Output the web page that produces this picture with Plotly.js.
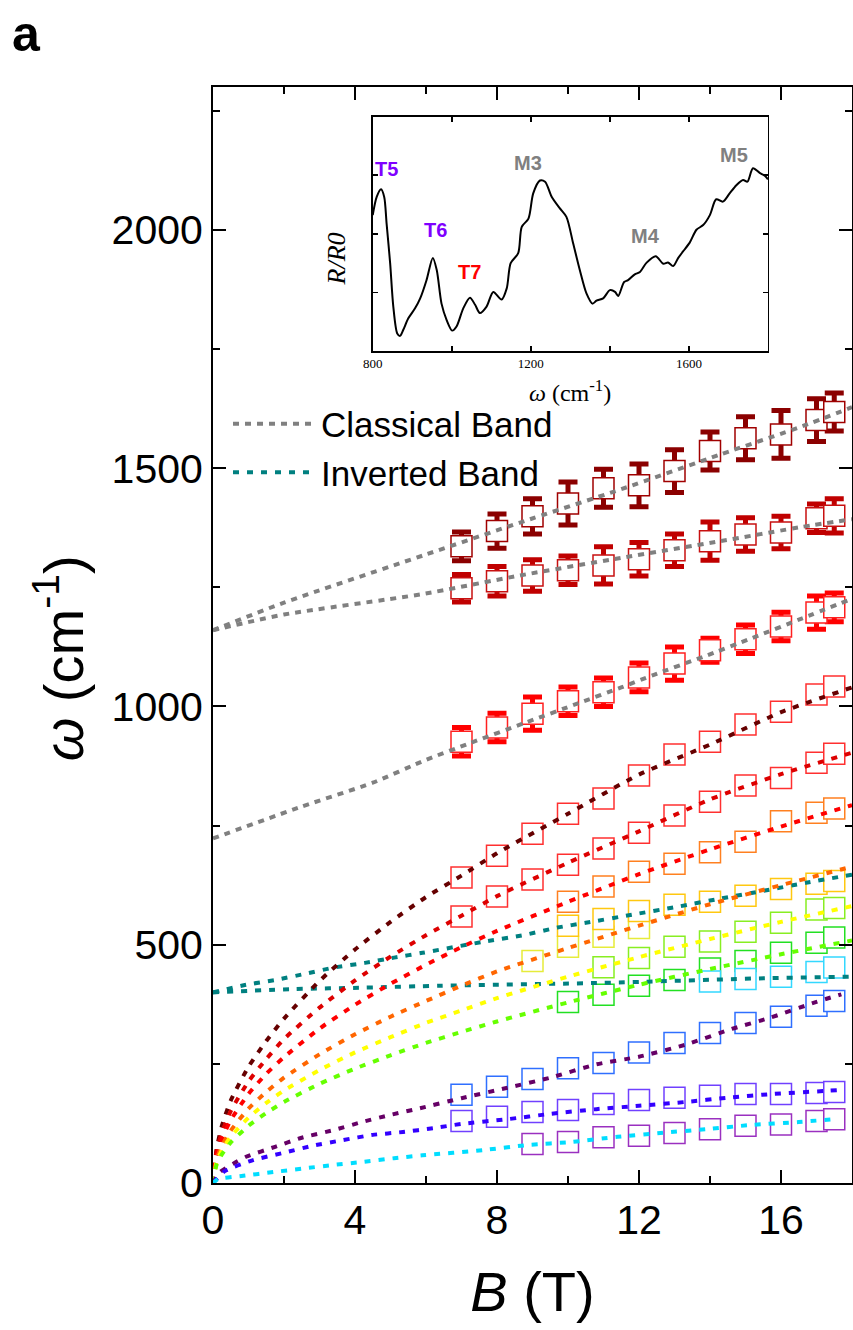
<!DOCTYPE html>
<html><head><meta charset="utf-8">
<script src="https://cdn.plot.ly/plotly-3.0.1.min.js"></script>
<style>html,body{margin:0;padding:0;background:#fff;} #chart{width:853px;height:1330px;}</style>
</head><body><div id="chart"></div>
<script>
// ---------- Classical band data (with error bars) ----------
const clsB = [7, 8, 9, 10, 11, 12, 13, 14, 15, 16, 17, 17.5];
const cls1W = [1336, 1368, 1399, 1426, 1458, 1464, 1494, 1536, 1563, 1571, 1601, 1618];
const cls1Err = [30, 36, 37, 45, 40, 45, 45, 40, 45, 50, 45, 40];
const cls2W = [1248, 1263, 1275, 1286, 1296, 1309, 1328, 1347, 1361, 1365, 1395, 1400];
const cls2Err = [29, 31, 33, 30, 39, 35, 34, 40, 35, 34, 30, 36];
const cls3W = [926, 956, 985, 1011, 1030, 1061, 1090, 1118, 1141, 1168, 1197, 1208];
const cls3Err = [30, 30, 35, 30, 30, 30, 35, 25, 30, 30, 35, 30];

// ---------- Other measured transitions ----------
const fullB = [7, 8, 9, 10, 11, 12, 13, 14, 15, 16, 17, 17.5];
const maroonBoxW = [641, 687, 733, 775, 807, 855, 899, 926, 962, 989, 1025, 1042];
const red2BoxW = [559, 601, 637, 668, 702, 735, 771, 800, 834, 850, 882, 901];
const orangeBoxB = [10, 11, 12, 13, 14, 15, 16, 17, 17.5];
const orangeBoxW = [590, 622, 653, 670, 694, 716, 759, 777, 786];
const paleBoxB = [9, 10, 11, 12];
const paleBoxW = [466, 496, 517, 535];
const goldBoxB = [10, 11, 12, 13, 14, 15, 16, 17, 17.5];
const goldBoxW = [540, 554, 571, 584, 590, 603, 617, 628, 634];
const limeBoxB = [11, 12, 13, 14, 15, 16, 17, 17.5];
const limeBoxW = [453, 472, 496, 507, 527, 546, 574, 577];
const greenBoxB = [10, 11, 12, 13, 14, 15, 16, 17, 17.5];
const greenBoxW = [380, 395, 414, 426, 450, 466, 483, 504, 515];
const cyanBoxB = [14, 15, 16, 17, 17.5];
const cyanBoxW = [423, 428, 433, 443, 452];
const blueBoxW = [185, 202, 218, 241, 252, 274, 294, 315, 336, 349, 372, 382];
const violetBoxW = [130, 139, 149, 153, 166, 174, 179, 183, 187, 187, 189, 191];
const magentaBoxB = [9, 10, 11, 12, 13, 14, 15, 16, 17, 17.5];
const magentaBoxW = [82, 86, 96, 99, 105, 113, 120, 123, 130, 134];

// ---------- Fit curves ----------
const gray1B = [0, 2, 6, 8.65, 11.5, 14.3, 16.6, 18];
const gray1W = [1160, 1218, 1319, 1386, 1456, 1529, 1588, 1628];
const gray2B = [0, 2, 5.83, 8.65, 11.5, 14.3, 16.6, 18];
const gray2W = [1160, 1193, 1235, 1275, 1312, 1347, 1377, 1393];
const gray3B = [0, 2.5, 4.5, 6, 7.2, 8.8, 10.3, 11.5, 12.4, 13.8, 15.2, 16.6, 18];
const gray3W = [723, 790, 840, 888, 922, 966, 1007, 1040, 1066, 1104, 1144, 1185, 1226];

const fitB = [0, 0.1, 0.25, 0.5, 1, 1.5, 2, 3, 4, 5, 6, 7, 8, 10, 12, 14, 16, 18];
const maroonFitW = [0, 70, 120, 173, 244, 298, 345, 424, 490, 548, 600, 645, 692, 775, 857, 920, 988, 1040];
const red2FitW = [0, 67, 106, 151, 213, 260, 302, 368, 425, 475, 520, 561, 602, 672, 738, 805, 858, 903];
const redFitW = [0, 59, 93, 132, 187, 229, 264, 324, 374, 418, 458, 495, 529, 590, 648, 700, 748, 793];
const orangeFitW = [0, 49, 78, 110, 156, 191, 221, 270, 312, 349, 382, 414, 444, 493, 540, 585, 625, 664];
const yellowFitW = [0, 43, 69, 97, 137, 168, 194, 237, 274, 306, 336, 362, 388, 433, 474, 512, 548, 581];
const limeFitW = [0, 38, 60, 85, 120, 147, 170, 208, 240, 268, 294, 317, 339, 379, 416, 449, 480, 509];

const purpleFitB = [0, 0.2, 0.56, 0.93, 1.75, 2.5, 3.4, 4.2, 5, 5.83, 7, 8.3, 9.5, 10.8, 12, 13.3, 14.6, 15.7, 17, 17.7];
const purpleFitW = [0, 23, 40, 55, 76, 95, 111, 128, 143, 157, 178, 200, 221, 249, 265, 290, 323, 347, 380, 396];
const blueFitB = [0, 0.33, 1.13, 1.97, 2.8, 3.66, 4.5, 5.35, 6.2, 7, 8.3, 9.5, 10.8, 12, 13.3, 14.5, 15.8, 17.2, 17.6];
const blueFitW = [0, 25, 48, 63, 78, 90, 101, 107, 115, 124, 134, 145, 155, 162, 170, 179, 187, 193, 195];
const cyanFitB = [0, 0.14, 0.85, 1.7, 2.5, 3.4, 4.2, 5.1, 5.9, 7.6, 8.9, 10.1, 11.4, 12.6, 13.9, 15.2, 16.5, 17.5];
const cyanFitW = [0, 8, 15, 23, 30, 38, 44, 52, 58, 69, 80, 86, 97, 105, 113, 122, 128, 134];

const tealUpB = [0, 0.93, 1.75, 2.6, 3.4, 4.28, 5.1, 5.9, 7.6, 8.8, 9.7, 10.5, 11.8, 13.1, 14.3, 15.5, 16.7, 18];
const tealUpW = [400, 416, 426, 439, 452, 462, 473, 483, 506, 521, 536, 546, 563, 580, 597, 613, 630, 647];
const tealLowB = [0, 2.25, 4.3, 6.4, 11, 15.7, 18];
const tealLowW = [400, 407, 410, 414, 420, 430, 433];

// ---------- Inset spectrum ----------
const insetWn = [800,810,821,829,835,844,852,862,869,877,890,907,920,936,952,962,974,987,1001,1012,1029,1046,1059,1071,1088,1105,1126,1139,1149,1168,1177,1194,1206,1223,1236,1253,1273,1290,1307,1324,1341,1356,1366,1383,1400,1413,1421,1436,1446,1463,1476,1493,1516,1535,1547,1560,1573,1585,1602,1619,1636,1653,1669,1686,1703,1720,1737,1748,1762,1779,1792,1800];
const insetR = [2.32,2.63,2.76,2.63,2.18,1.50,0.76,0.30,0.26,0.36,0.56,0.73,0.90,1.21,1.59,1.38,0.81,0.53,0.35,0.42,0.73,0.91,0.79,0.65,0.76,1.01,0.88,1.07,1.50,1.67,2.12,2.26,2.69,2.91,2.89,2.63,2.44,2.29,1.84,1.38,0.98,0.81,0.86,0.90,1.04,1.01,0.94,1.18,1.21,1.31,1.35,1.51,1.62,1.49,1.51,1.45,1.59,1.70,1.85,2.07,2.15,2.32,2.59,2.55,2.69,2.83,2.92,2.89,3.12,3.04,2.99,2.93];
const peakLabels = ['T5', 'T6', 'T7', 'M3', 'M4', 'M5'];
const peakWn = [836, 958, 1044, 1193, 1491, 1714];
const peakR = [3.11, 2.06, 1.35, 3.21, 1.96, 3.34];
const peakColors = ['#7f00ff', '#7f00ff', '#ff0000', '#808080', '#808080', '#808080'];

// ---------- styles ----------
const SANS = 'Liberation Sans, Arial, sans-serif';
const SERIF = 'Liberation Serif, Times New Roman, serif';
const BOX = 21;

function boxTrace(x, y, color, err, errColor) {
  const t = {
    type: 'scatter', mode: 'markers', x: x, y: y, showlegend: false, hoverinfo: 'skip',
    marker: {symbol: 'square', size: BOX, color: 'white', line: {color: color, width: 1.5}}
  };
  if (err) {
    t.error_y = {type: 'data', array: err, visible: true, color: errColor, thickness: 5, width: 9.5};
  }
  return t;
}
function fitTrace(x, y, color, dash, name) {
  return {
    type: 'scatter', mode: 'lines', x: x, y: y, name: name || '', showlegend: !!name,
    hoverinfo: 'skip', line: {color: color, width: 4, dash: dash, shape: 'spline', smoothing: 0.6}
  };
}

const DOT = '6px,8px';
const GDOT = '6px,6px';

const data = [
  boxTrace(clsB, cls1W, '#a00000', cls1Err, '#8b0000'),
  boxTrace(clsB, cls2W, '#c81010', cls2Err, '#c00000'),
  boxTrace(clsB, cls3W, '#ff2020', cls3Err, '#ff0000'),
  boxTrace(fullB, maroonBoxW, '#ff3030'),
  boxTrace(fullB, red2BoxW, '#ff3030'),
  boxTrace(orangeBoxB, orangeBoxW, '#ff8020'),
  boxTrace(paleBoxB, paleBoxW, '#e6ec3a'),
  boxTrace(goldBoxB, goldBoxW, '#ffc810'),
  boxTrace(limeBoxB, limeBoxW, '#88ee22'),
  boxTrace(greenBoxB, greenBoxW, '#22e022'),
  boxTrace(cyanBoxB, cyanBoxW, '#33d8ff'),
  boxTrace(fullB, blueBoxW, '#2f6fff'),
  boxTrace(fullB, violetBoxW, '#7040ff'),
  boxTrace(magentaBoxB, magentaBoxW, '#9a30c0'),

  fitTrace(gray1B, gray1W, '#808080', GDOT, 'Classical Band'),
  fitTrace(gray2B, gray2W, '#808080', GDOT),
  fitTrace(gray3B, gray3W, '#808080', GDOT),
  fitTrace(tealUpB, tealUpW, '#008080', DOT, 'Inverted Band'),
  fitTrace(tealLowB, tealLowW, '#008080', DOT),
  fitTrace(fitB, maroonFitW, '#660000', DOT),
  fitTrace(fitB, red2FitW, '#dd0000', DOT),
  fitTrace(fitB, redFitW, '#ff0000', DOT),
  fitTrace(fitB, orangeFitW, '#ff6600', DOT),
  fitTrace(fitB, yellowFitW, '#ffff00', DOT),
  fitTrace(fitB, limeFitW, '#66ff00', DOT),
  fitTrace(purpleFitB, purpleFitW, '#660066', DOT),
  fitTrace(blueFitB, blueFitW, '#3300ff', DOT),
  fitTrace(cyanFitB, cyanFitW, '#00ddff', DOT),

  {type: 'scatter', mode: 'lines', x: insetWn, y: insetR, xaxis: 'x2', yaxis: 'y2', showlegend: false,
   hoverinfo: 'skip', line: {color: 'black', width: 2, shape: 'spline', smoothing: 0.8}}
];

const annotations = [
  {text: '<b>a</b>', xref: 'paper', yref: 'paper', x: -0.2926, y: 1.048, xanchor: 'center', yanchor: 'middle',
   showarrow: false, font: {family: SANS, size: 50, color: 'black'}},
  {text: '<i>ω</i> (cm<sup>-1</sup>)', xref: 'paper', yref: 'paper', x: 0.559, y: 0.723, xanchor: 'center', yanchor: 'middle',
   showarrow: false, font: {family: SERIF, size: 24, color: 'black'}},
  {text: '<i>R/R0</i>', xref: 'paper', yref: 'paper', x: 0.193, y: 0.843, xanchor: 'center', yanchor: 'middle',
   textangle: -90, showarrow: false, font: {family: SERIF, size: 26, color: 'black'}}
];
peakLabels.forEach((lab, i) => {
  annotations.push({text: '<b>' + lab + '</b>', xref: 'x2', yref: 'y2', x: peakWn[i], y: peakR[i],
    xanchor: 'center', yanchor: 'middle', showarrow: false, font: {family: SANS, size: 20, color: peakColors[i]}});
});

const axBase = {showline: true, linewidth: 2, linecolor: 'black', mirror: 'ticks', ticks: 'inside',
  tickcolor: 'black', tickwidth: 2, showgrid: false, zeroline: false};

const layout = {
  width: 853, height: 1330,
  margin: {l: 213, r: 1, t: 87, b: 147, pad: 0},
  paper_bgcolor: 'white', plot_bgcolor: 'white',
  showlegend: true,
  legend: {x: 0.0235, y: 0.7195, xanchor: 'left', yanchor: 'top', itemwidth: 83,
    font: {family: SANS, size: 35, color: 'black'}, bgcolor: 'rgba(0,0,0,0)', borderwidth: 0},
  xaxis: Object.assign({}, axBase, {
    range: [0, 18], anchor: 'y', tick0: 0, dtick: 4, ticklen: 13,
    minor: {dtick: 2, ticklen: 7, tickwidth: 2, tickcolor: 'black', ticks: 'inside'},
    tickfont: {family: SANS, size: 41, color: 'black'},
    title: {text: '<i>B</i> (T)', font: {family: SANS, size: 56, color: 'black'}, standoff: 30}
  }),
  yaxis: Object.assign({}, axBase, {
    range: [0, 2300], anchor: 'x', tick0: 0, dtick: 500, ticklen: 13,
    minor: {dtick: 250, ticklen: 7, tickwidth: 2, tickcolor: 'black', ticks: 'inside'},
    tickfont: {family: SANS, size: 41, color: 'black'},
    title: {text: '<i>ω</i> (cm<sup>-1</sup>)&nbsp;&nbsp;&nbsp;', font: {family: SANS, size: 56, color: 'black'}, standoff: 10}
  }),
  xaxis2: Object.assign({}, axBase, {
    domain: [0.25, 0.8685], anchor: 'y2', range: [800, 1800], linewidth: 1.5, tickwidth: 1.5, ticklen: 5,
    tick0: 800, dtick: 400,
    minor: {dtick: 200, ticklen: 5, tickwidth: 1.5, tickcolor: 'black', ticks: 'inside'},
    tickfont: {family: SERIF, size: 13, color: 'black'}
  }),
  yaxis2: Object.assign({}, axBase, {
    domain: [0.759, 0.973], anchor: 'x2', range: [0, 4], linewidth: 1.5, tickwidth: 1.5, ticklen: 5,
    tickvals: [1, 2, 3], showticklabels: false
  }),
  annotations: annotations
};

Plotly.newPlot('chart', data, layout, {staticPlot: true, displayModeBar: false});
</script></body></html>
